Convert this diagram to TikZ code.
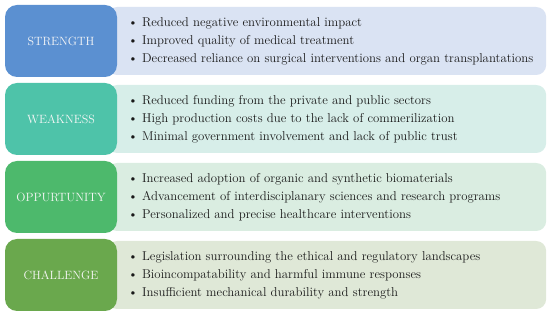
\documentclass[tikz,border=0pt]{standalone}
\usetikzlibrary{positioning}

\definecolor{strengthdark}{HTML}{5B90D1}
\definecolor{strengthlight}{HTML}{DAE3F3}
\definecolor{weaknessdark}{HTML}{4EC3A9}
\definecolor{weaknesslight}{HTML}{D7EEE9}
\definecolor{oppdark}{HTML}{4DB96C}
\definecolor{opplight}{HTML}{DAEDE1}
\definecolor{challengedark}{HTML}{6AA84D}
\definecolor{challengelight}{HTML}{DFE8D7}

\begin{document}
\begin{tikzpicture}[x=1pt, y=1pt,
    labelbox/.style={rounded corners=12pt, minimum width=112pt, minimum height=72pt,
        inner sep=0pt, text=white!94!gray, font=\fontsize{12}{14}\selectfont},
    panel/.style={rounded corners=10pt, anchor=west, minimum width=439pt, minimum height=68pt,
        inner sep=0pt},
    items/.style={anchor=west, inner sep=0pt, align=left, text=black!90,
        font=\fontsize{12.8}{18}\selectfont}]
            \useasboundingbox (0,0) rectangle (550,316);

            % 1. Hatter panelek (a bal oldali dobozok moge)
            \node[panel, fill=strengthlight] (strength-panel) at (107,275) {};
            \node[panel, fill=weaknesslight] (weakness-panel) at (107,197) {};
            \node[panel, fill=opplight] (opp-panel) at (107,119) {};
            \node[panel, fill=challengelight] (challenge-panel) at (107,41) {};

            % 2. Felsorolasok
            \node[items] (strength-list) at ([xshift=21pt]strength-panel.west) {%
                \textbullet\ Reduced negative environmental impact\\
                \textbullet\ Improved quality of medical treatment\\
                \textbullet\ Decreased reliance on surgical interventions and organ transplantations};
            \node[items] (weakness-list) at ([xshift=21pt]weakness-panel.west) {%
                \textbullet\ Reduced funding from the private and public sectors\\
                \textbullet\ High production costs due to the lack of commerilization\\
                \textbullet\ Minimal government involvement and lack of public trust};
            \node[items] (opp-list) at ([xshift=21pt]opp-panel.west) {%
                \textbullet\ Increased adoption of organic and synthetic biomaterials\\
                \textbullet\ Advancement of interdisciplanary sciences and research programs\\
                \textbullet\ Personalized and precise healthcare interventions};
            \node[items] (challenge-list) at ([xshift=21pt]challenge-panel.west) {%
                \textbullet\ Legislation surrounding the ethical and regulatory landscapes\\
                \textbullet\ Bioincompatability and harmful immune responses\\
                \textbullet\ Insufficient mechanical durability and strength};

            % 3. Bal oldali cimkek (lab-sor formaban)
            \foreach \i/\key/\title in {0/strength/STRENGTH, 1/weakness/WEAKNESS,
                                        2/opp/OPPURTUNITY, 3/challenge/CHALLENGE} {
                \node[labelbox, fill=\key dark] (lab-\i) at (61,275-78*\i) {\title};
            }
        \end{tikzpicture}
\end{document}
